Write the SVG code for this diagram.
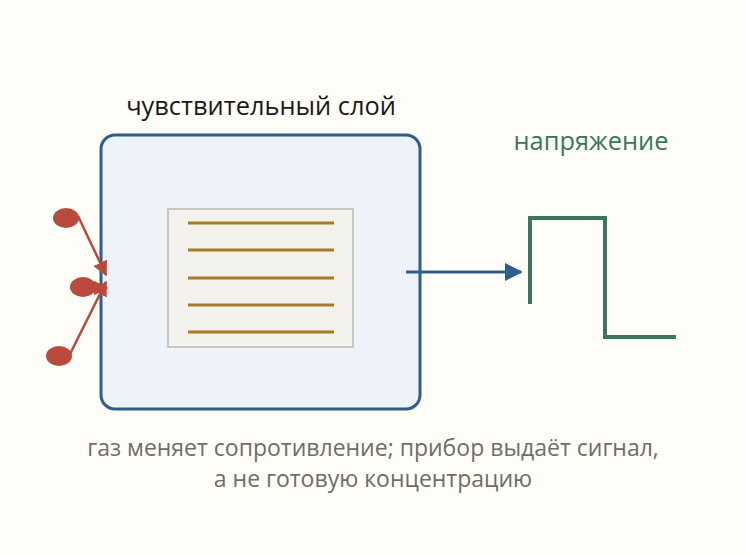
<svg xmlns="http://www.w3.org/2000/svg" width="746" height="556" viewBox="0 0 746 556">
<style>
.t{font-family:"Open Sans","Noto Sans","Liberation Sans",sans-serif;text-anchor:middle}
.gas{fill:#b94a3c}
.gl{stroke:#b94a3c;stroke-width:2.5;fill:none}
.fin{stroke:#a87b26;stroke-width:3}
</style>
<defs>
<marker id="ar" viewBox="0 0 10 10" refX="9" refY="5" markerWidth="15" markerHeight="15" orient="auto" markerUnits="userSpaceOnUse">
<path d="M0,0 L10,5 L0,10 z" fill="#b94a3c"/>
</marker>
<marker id="ab" viewBox="0 0 10 10" refX="9" refY="5" markerWidth="6" markerHeight="6" orient="auto">
<path d="M0,0 L10,5 L0,10 z" fill="#2f5d8c"/>
</marker>
</defs>
<rect width="746" height="556" fill="#fffdf8"/>
<g id="sensor">
<rect x="101" y="135" width="319" height="274" rx="14" fill="#edf3f9" stroke="#2f5d8c" stroke-width="3"/>
<text class="t" x="261" y="115" font-size="25.4" fill="#1a1a1a">чувствительный слой</text>
</g>
<g id="electrode">
<rect x="168" y="209" width="185" height="138" fill="#f4f2ec" stroke="#c9c6bf" stroke-width="2"/>
<line class="fin" x1="188" y1="223" x2="334" y2="223"/>
<line class="fin" x1="188" y1="250" x2="334" y2="250"/>
<line class="fin" x1="188" y1="278" x2="334" y2="278"/>
<line class="fin" x1="188" y1="305" x2="334" y2="305"/>
<line class="fin" x1="188" y1="332" x2="334" y2="332"/>
</g>
<g id="gas">
<ellipse class="gas" cx="66" cy="218" rx="13" ry="10"/>
<ellipse class="gas" cx="83" cy="287" rx="13" ry="10"/>
<ellipse class="gas" cx="59" cy="356" rx="13" ry="10"/>
</g>
<g id="signal">
<polyline points="530,304 530,218 605,218 605,337 676,337" fill="none" stroke="#3a7560" stroke-width="4"/>
<text class="t" x="591" y="150" font-size="25.4" fill="#3a7560">напряжение</text>
</g>
<g id="connectors">
<line class="gl" x1="78" y1="216" x2="106" y2="275" marker-end="url(#ar)"/>
<line class="gl" x1="92" y1="288" x2="107" y2="288" marker-end="url(#ar)"/>
<line class="gl" x1="70" y1="354" x2="106" y2="282" marker-end="url(#ar)"/>
<line x1="406" y1="272" x2="521" y2="272" stroke="#2f5d8c" stroke-width="3" marker-end="url(#ab)"/>
</g>
<g id="caption">
<text class="t" x="373" y="456" font-size="23" fill="#6e6e66">газ меняет сопротивление; прибор выдаёт сигнал,</text>
<text class="t" x="373" y="487" font-size="23" fill="#6e6e66">а не готовую концентрацию</text>
</g>
</svg>
